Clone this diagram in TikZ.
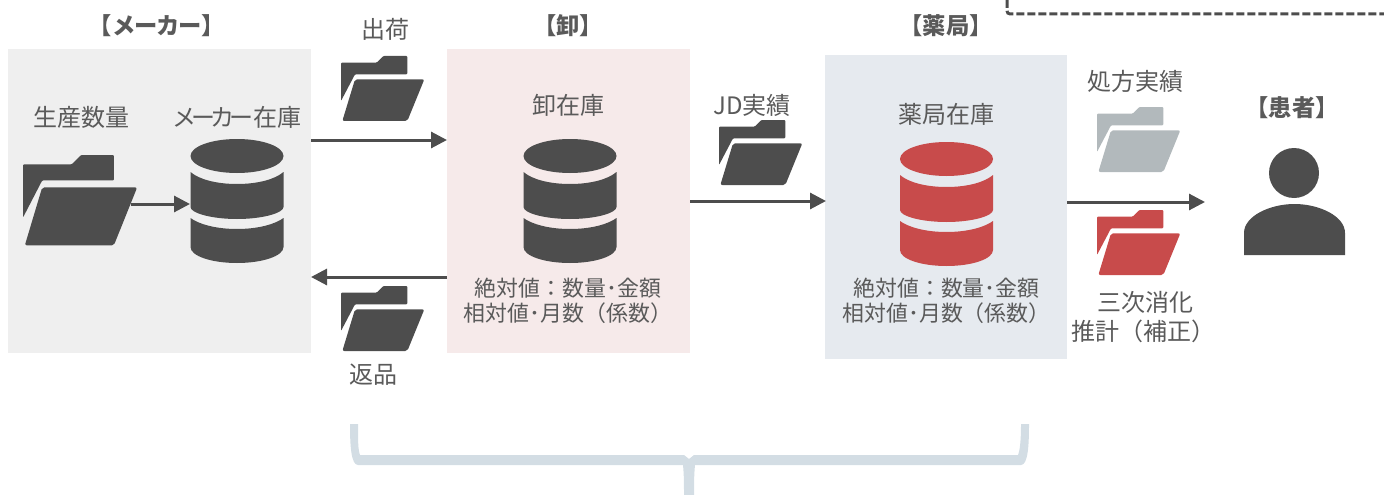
\documentclass[tikz,border=0pt]{standalone}
\usepackage{fontspec}
\setmainfont{Noto Sans CJK JP}
\usetikzlibrary{arrows.meta,calc}
\definecolor{ink}{HTML}{4D4D4D}
\definecolor{txt}{HTML}{5A5A5A}
\definecolor{redc}{HTML}{C84B4B}
\definecolor{greyc}{HTML}{B2B9BC}
\definecolor{bracec}{HTML}{D3DDE4}
\definecolor{boxa}{HTML}{EFEFEF}
\definecolor{boxb}{HTML}{F6EAEA}
\definecolor{boxc}{HTML}{E6EAEF}
\tikzset{
  x=1pt,y=-1pt,
  zone/.style={anchor=north west,inner sep=0pt,outer sep=0pt},
  lbl/.style={text=txt,font=\fontsize{24}{28}\selectfont,inner sep=0pt,align=center},
  sub/.style={text=txt,font=\fontsize{21.9}{25}\selectfont,inner sep=0pt,align=center},
  head/.style={text=txt,font=\fontsize{23.3}{27}\selectfont\bfseries,inner sep=0pt},
  flow/.style={draw=ink,line width=3pt,-{Triangle[length=16pt,width=16pt]}},
}
% folder: #1 x, #2 y, #3 colour, #4 x scale, #5 y scale
\newcommand{\folder}[5]{%
  \begin{scope}[shift={(#1,#2)},x=#4pt/3,y=-#5pt/3]
    \fill[#3,rounded corners=1pt] (0,20) -- (107,20) -- (127,0) -- (199,0) -- (199,55) -- (42,55) -- (0,135) -- cycle;
    \fill[#3,rounded corners=2pt] (42,70) -- (250,70) -- (199,195) -- (4,195) -- cycle;
  \end{scope}}
% database: #1 left x, #2 top y, #3 colour
\newcommand{\dbase}[3]{%
  \begin{scope}[shift={(#1,#2)},x=1pt,y=-1pt]
    \fill[#3] (0,17) .. controls (0,7.6) and (20.8,0) .. (46.5,0) .. controls (72.2,0) and (93,7.6) .. (93,17)
       .. controls (93,26.4) and (72.2,34) .. (46.5,34) .. controls (20.8,34) and (0,26.4) .. (0,17) -- cycle;
    \fill[#3] (0,33) .. controls (8,40) and (25,45) .. (46.5,45) .. controls (68,45) and (85,40) .. (93,33)
       -- (93,68) .. controls (93,74) and (72,80) .. (46.5,80) .. controls (21,80) and (0,74) .. (0,68) -- cycle;
    \fill[#3] (0,79) .. controls (8,85) and (25,90) .. (46.5,90) .. controls (68,90) and (85,85) .. (93,79)
       -- (93,108) .. controls (93,117) and (72,124) .. (46.5,124) .. controls (21,124) and (0,117) .. (0,108) -- cycle;
  \end{scope}}
\begin{document}
\begin{tikzpicture}
\useasboundingbox (0,0) rectangle (1384,495);
% zones
\node[zone,fill=boxa,minimum width=303pt,minimum height=304pt] (maker) at (8,49) {};
\node[zone,fill=boxb,minimum width=243pt,minimum height=304pt] (whole) at (447,49) {};
\node[zone,fill=boxc,minimum width=242pt,minimum height=304pt] (pharm) at (825,55) {};
% headings
\node[head] (hm) at (157,26) {【{\addfontfeature{LetterSpace=-5}メーカー}】};
\node[head] (hw) at (568,26) {【卸】};
\node[head] (hp) at (946,26) {【薬局】};
\node[head] (hc) at (1292,108) {【患者】};
% labels
\node[lbl] (l1) at (81,117) {生産数量};
\node[lbl] (l2) at (237,117) {{\addfontfeature{LetterSpace=-20}メーカー}在庫};
\node[lbl] (l3) at (385,29) {出荷};
\node[lbl] (l4) at (373,375) {返品};
\node[lbl] (l5) at (568,105) {卸在庫};
\node[lbl] (l6) at (752,105) {JD実績};
\node[lbl] (l7) at (946,114) {薬局在庫};
\node[lbl] (l8) at (1135,81) {処方実績};
\node[sub] (l9) at (568,301) {絶対値：数量･金額\\相対値･月数（係数）};
\node[sub] (l10) at (946.5,301) {絶対値：数量･金額\\相対値･月数（係数）};
\node[lbl] (l11) at (1145,302) {三次消化};
\node[lbl] (l12) at (1143,331) {推計（補正）};
% folders
\folder{23}{155}{ink}{1.37}{1.39}
\folder{341}{56}{ink}{1}{1}
\folder{341}{286}{ink}{1}{1}
\folder{719}{120}{ink}{1}{1}
\folder{1097}{107}{greyc}{1}{1}
\folder{1097}{210}{redc}{1}{1}
% databases
\dbase{190.5}{139}{ink}
\dbase{523.5}{139}{ink}
\dbase{900}{142}{redc}
% person
\fill[ink] (1294,173) circle (25);
\fill[ink] (1244,255) -- (1244,233) .. controls (1244,216) and (1270,204) .. (1294.5,204)
  .. controls (1319,204) and (1345,216) .. (1345,233) -- (1345,255) -- cycle;
% anchors for connector ends
\coordinate (fbig) at (131,204);
\coordinate (dbm) at (190,204);
\coordinate (pat) at (1205,202);
% connectors
\draw[flow] (fbig) -- (dbm);
\draw[flow] (maker.north east |- 0,140) -- (whole.north west |- 0,140);
\draw[flow] (whole.north west |- 0,277) -- (maker.north east |- 0,277);
\draw[flow,shorten >=-1pt] (whole.north east |- 0,201) -- (pharm.north west |- 0,201);
\draw[flow] (pharm.north east |- pat) -- (pat);
% dashed frame corner
\coordinate (da) at (1007,0);
\coordinate (db) at (1384,14);
\draw[ink,line width=3pt,dash pattern=on 8pt off 3pt,rounded corners=3pt] (da) -- (da |- db) -- (db);
% bracket
\fill[bracec] (350,424) -- (358,424) .. controls (358,440) and (358,450) .. (360,455)
  -- (684,455) -- (689,459) -- (694,455) -- (1018,455) .. controls (1020,450) and (1021,440) .. (1021,424)
  -- (1029,424) .. controls (1029,445) and (1028,465) .. (1021,465)
  -- (695,465) .. controls (694,475) and (694,485) .. (694,495) -- (684,495) .. controls (684,485) and (684,475) .. (683,465)
  -- (358,465) .. controls (351,465) and (350,445) .. (350,424) -- cycle;
\end{tikzpicture}
\end{document}
